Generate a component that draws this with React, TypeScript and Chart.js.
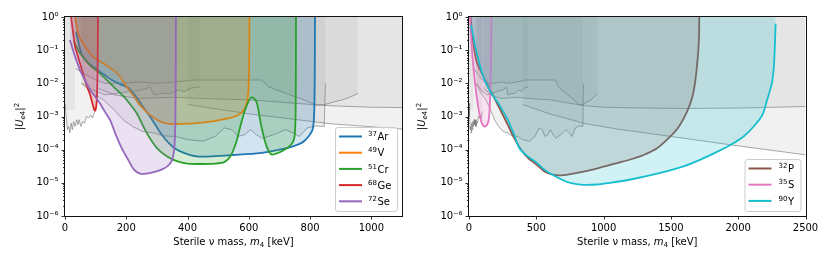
import React, { useEffect, useRef } from 'react';
import { Chart, registerables } from 'chart.js';

Chart.register(...registerables);

const FONT_FAMILY = '"DejaVu Sans", sans-serif';

// ---------------- axes ----------------
const leftXTicks = [0, 200, 400, 600, 800, 1000];
const leftXMax = 1100;
const rightXTicks = [0, 500, 1000, 1500, 2000, 2500];
const rightXMax = 2500;
const yTickValues = [1e-6, 1e-5, 1e-4, 1e-3, 1e-2, 1e-1, 1];

// ---------------- isotope sensitivity curves (mass in keV, |U_e4|^2) ----------------
const arMass = [36, 45, 55, 75, 99, 125, 153, 180, 208, 230, 251, 275, 295, 316, 338, 360, 390, 430, 480, 550, 636, 700, 744, 775, 795, 808, 813, 815, 816];
const arU = [0.363, 0.158, 0.072, 0.042, 0.028, 0.019, 0.0126, 0.0095, 0.0071, 0.0042, 0.0022, 0.00107, 5.6e-4, 2.8e-4, 1.6e-4, 1.07e-4, 7.9e-5, 6.3e-5, 6.3e-5, 6.9e-5, 7.9e-5, 1e-4, 1.26e-4, 1.66e-4, 2.5e-4, 4e-4, 1e-3, 1e-2, 1];

const vMass = [33, 43, 65, 92, 125, 158, 180, 201, 225, 245, 277, 310, 340, 380, 430, 480, 520, 555, 575, 590, 598, 601, 602];
const vU = [1, 0.32, 0.129, 0.063, 0.04, 0.025, 0.0158, 0.0079, 0.004, 0.0022, 0.00112, 7.1e-4, 6.0e-4, 6.0e-4, 6.3e-4, 7.1e-4, 8.3e-4, 1e-3, 1.26e-3, 2e-3, 5e-3, 0.0316, 1];

const crMass = [29, 49, 82, 114, 158, 186, 201, 234, 261, 277, 300, 332, 365, 400, 440, 490, 520, 540, 558, 575, 592, 609, 625, 641, 658, 674, 700, 725, 742, 750, 753, 754];
const crU = [0.182, 0.081, 0.035, 0.02, 0.0079, 0.0045, 0.0032, 0.00126, 4e-4, 2.2e-4, 1.12e-4, 6.3e-5, 4.5e-5, 3.8e-5, 3.7e-5, 3.8e-5, 4.2e-5, 6.3e-5, 1.58e-4, 6.3e-4, 2e-3, 3.8e-3, 2.8e-3, 5e-4, 1.26e-4, 7.2e-5, 8.3e-5, 1.12e-4, 1.58e-4, 2.8e-4, 2e-3, 1];

const geMass = [20, 26, 33, 41, 49, 57, 65, 74, 82, 88, 93, 97, 100, 103, 105, 106.5, 107.5];
const geU = [1, 0.355, 0.126, 0.071, 0.04, 0.0224, 0.0126, 0.0071, 0.0045, 0.0028, 0.0019, 0.0015, 0.0016, 0.0025, 0.0063, 0.0316, 1];

const seMass = [16, 33, 49, 65, 82, 98, 114, 130, 147, 168, 185, 206, 225, 245, 265, 290, 315, 335, 348, 355, 359, 361, 362];
const seU = [0.204, 0.063, 0.025, 0.0126, 0.0063, 0.004, 0.0025, 0.0014, 7.9e-4, 2.5e-4, 1.12e-4, 5e-5, 2.5e-5, 1.9e-5, 1.9e-5, 2.1e-5, 2.5e-5, 3.2e-5, 4.5e-5, 7.9e-5, 2.5e-4, 3.2e-3, 1];

const pMass = [12, 25, 57, 114, 164, 226, 288, 337, 387, 440, 504, 560, 628, 700, 801, 920, 1049, 1180, 1297, 1400, 1496, 1560, 1620, 1660, 1682, 1700, 1709, 1711];
const pU = [1, 0.25, 0.045, 0.014, 0.0056, 0.0018, 5.6e-4, 2.2e-4, 1e-4, 5.6e-5, 3.5e-5, 2.2e-5, 1.74e-5, 1.7e-5, 2e-5, 2.5e-5, 3.5e-5, 4.8e-5, 6.9e-5, 1.12e-4, 2.5e-4, 5e-4, 1.4e-3, 4e-3, 0.0126, 0.063, 0.25, 1];

const sMass = [7, 20, 32, 45, 57, 70, 82, 95, 112, 128, 144, 152, 157, 161, 164, 166, 167];
const sU = [1, 0.126, 0.0316, 0.01, 0.004, 0.0018, 1e-3, 6.3e-4, 5e-4, 5.2e-4, 7.1e-4, 1.4e-3, 4e-3, 0.0158, 0.063, 0.25, 1];

const yMass = [15, 30, 52, 102, 151, 226, 288, 330, 374, 420, 504, 560, 603, 680, 751, 850, 950, 1049, 1200, 1421, 1600, 1719, 1850, 1942, 2040, 2115, 2180, 2215, 2250, 2265, 2272, 2278];
const yU = [0.575, 0.28, 0.1, 0.0178, 0.0063, 0.0022, 7.9e-4, 3.2e-4, 1.12e-4, 7.1e-5, 4e-5, 2.5e-5, 1.9e-5, 1.3e-5, 1e-5, 8.7e-6, 8.9e-6, 1e-5, 1.26e-5, 2e-5, 3.2e-5, 5e-5, 8.9e-5, 1.38e-4, 2.5e-4, 5e-4, 1.12e-3, 3.2e-3, 0.01, 0.0316, 0.126, 0.63];

// ---------------- existing bounds (grey) ----------------
const stripMass = [0, 33];
const stripU = [1.6e-3, 1.6e-3];

const jaggedMass = [0, 4, 8, 12, 16, 20, 24, 28, 33, 38, 42, 46, 52, 58, 64, 70, 77, 84, 90, 95, 100];
const jaggedU = [2.5e-3, 1e-3, 4e-4, 5e-4, 3.2e-4, 6.3e-4, 4e-4, 7e-4, 5e-4, 8e-4, 5.6e-4, 8e-4, 5e-4, 7e-4, 6.3e-4, 1e-3, 9e-4, 1.1e-3, 9e-4, 1.26e-3, 1.4e-3];

const boundAMass = [34, 60, 100, 131, 180, 240, 300, 360, 420, 500, 600, 642, 664, 720, 780, 820, 848, 880, 907, 935, 956];
const boundAU = [2.8e-2, 2e-2, 1.26e-2, 1e-2, 1e-2, 1.1e-2, 1e-2, 1.1e-2, 1.26e-2, 1.26e-2, 1.26e-2, 1.26e-2, 7.9e-3, 5e-3, 3.2e-3, 2.2e-3, 2.3e-3, 2.8e-3, 3.2e-3, 4e-3, 5e-3];

const boundBMass = [54, 90, 131, 170, 208, 250, 278, 290, 320, 345, 370, 390, 410, 441];
const boundBU = [1e-2, 6.3e-3, 4.5e-3, 5e-3, 5.6e-3, 6.3e-3, 7.6e-3, 4.5e-3, 5e-3, 5e-3, 6.3e-3, 5.6e-3, 7.1e-3, 7.9e-3];

const boundCMass = [110, 160, 240, 360, 480, 600, 750, 870, 1000, 1300, 1600, 2000, 2500];
const boundCU = [7e-3, 4.5e-3, 3.5e-3, 3.8e-3, 3.4e-3, 3.2e-3, 2.5e-3, 2.1e-3, 1.9e-3, 1.8e-3, 1.75e-3, 1.8e-3, 2e-3];

const boundDMass = [400, 600, 870, 1100, 1500, 2000, 2500];
const boundDU = [2.3e-3, 1.2e-3, 6e-4, 4.2e-4, 2.5e-4, 1.3e-4, 7e-5];

const boundEMass = [54, 90, 125, 160, 190, 220, 255, 290, 320, 360, 400, 450, 490, 520, 545, 565, 585, 605, 625, 645, 680, 720, 745, 765, 790, 820, 846, 850];
const boundEU = [1e-2, 5e-3, 3.2e-3, 1.6e-3, 7.9e-4, 5e-4, 3.5e-4, 3.2e-4, 2.6e-4, 2.5e-4, 2e-4, 1.8e-4, 2.5e-4, 4.5e-4, 4e-4, 2.5e-4, 2.8e-4, 4e-4, 2.8e-4, 2.2e-4, 2.8e-4, 4e-4, 3.2e-4, 2.5e-4, 4.5e-4, 5.2e-4, 5e-4, 1e-2];

// ---------------- legend labels ----------------
const leftMassNumbers = ['37', '49', '51', '68', '72'];
const leftSymbols = ['Ar', 'V', 'Cr', 'Ge', 'Se'];
const rightMassNumbers = ['32', '35', '90'];
const rightSymbols = ['P', 'S', 'Y'];

// ---------------- helpers ----------------
const leftColors = ['#1f77b4', '#ff7f0e', '#2ca02c', '#d62728', '#9467bd'];
const rightColors = ['#8c564b', '#e377c2', '#17becf'];

const leftCurves = [
  { mass: arMass, u: arU },
  { mass: vMass, u: vU },
  { mass: crMass, u: crU },
  { mass: geMass, u: geU },
  { mass: seMass, u: seU },
];
const rightCurves = [
  { mass: pMass, u: pU },
  { mass: sMass, u: sU },
  { mass: yMass, u: yU },
];
const greyBounds = [
  { mass: stripMass, u: stripU, stroke: false },
  { mass: jaggedMass, u: jaggedU, stroke: true },
  { mass: boundAMass, u: boundAU, stroke: true },
  { mass: boundBMass, u: boundBU, stroke: true },
  { mass: boundCMass, u: boundCU, stroke: true },
  { mass: boundDMass, u: boundDU, stroke: true },
  { mass: boundEMass, u: boundEU, stroke: true },
];

const SUP: Record<string, string> = {
  '-': '\u207B', '0': '\u2070', '1': '\u00B9', '2': '\u00B2', '3': '\u00B3',
  '4': '\u2074', '5': '\u2075', '6': '\u2076', '7': '\u2077', '8': '\u2078', '9': '\u2079',
};
const toSup = (s: string) => s.split('').map((c) => SUP[c] ?? c).join('');

const toPoints = (xs: number[], ys: number[]) => xs.map((x, i) => ({ x, y: ys[i] }));

function rgba(hex: string, a: number) {
  const r = parseInt(hex.slice(1, 3), 16);
  const g = parseInt(hex.slice(3, 5), 16);
  const b = parseInt(hex.slice(5, 7), 16);
  return `rgba(${r},${g},${b},${a})`;
}

type Seg = { t: string; f: string; dy?: number };

function drawRich(ctx: CanvasRenderingContext2D, segs: Seg[], x: number, y: number) {
  let total = 0;
  for (const s of segs) {
    ctx.font = s.f;
    total += ctx.measureText(s.t).width;
  }
  let cx = x - total / 2;
  ctx.textAlign = 'left';
  ctx.textBaseline = 'alphabetic';
  for (const s of segs) {
    ctx.font = s.f;
    ctx.fillText(s.t, cx, y + (s.dy ?? 0));
    cx += ctx.measureText(s.t).width;
  }
}

const F10 = `10px ${FONT_FAMILY}`;
const F10I = `italic 10px ${FONT_FAMILY}`;
const F7 = `7px ${FONT_FAMILY}`;
const F7I = `italic 7px ${FONT_FAMILY}`;

const framePlugin = {
  id: 'frameTicks',
  afterDraw(chart: any) {
    const { ctx, chartArea: ca, scales } = chart;
    ctx.save();
    ctx.strokeStyle = '#000';
    ctx.lineWidth = 0.8;
    const xs = scales.x;
    ctx.beginPath();
    xs.ticks.forEach((t: any) => {
      const p = Math.round(xs.getPixelForValue(t.value)) + 0.5;
      ctx.moveTo(p, ca.bottom);
      ctx.lineTo(p, ca.bottom + 3.5);
    });
    const ys = scales.y;
    for (let e = -6; e <= 0; e++) {
      for (let k = 1; k < 10; k++) {
        const v = k * Math.pow(10, e);
        if (v > 1.0000001) break;
        const p = Math.round(ys.getPixelForValue(v)) + 0.5;
        const len = k === 1 ? 3.5 : 2;
        ctx.moveTo(ca.left - len, p);
        ctx.lineTo(ca.left, p);
      }
    }
    ctx.stroke();
    ctx.lineWidth = 1;
    ctx.strokeStyle = '#111';
    ctx.strokeRect(Math.round(ca.left) - 0.5, Math.round(ca.top) - 0.5, Math.round(ca.right - ca.left) + 1, Math.round(ca.bottom - ca.top) + 1);
    ctx.restore();
  },
};

type PanelSpec = {
  curves: { mass: number[]; u: number[] }[];
  colors: string[];
  massNumbers: string[];
  symbols: string[];
  xMax: number;
  xTicks: number[];
  yAxisWidth: number;
  rightPad: number;
  yTitleX: number;
  legendW: number;
  legendH: number;
  legendTextX: number;
};

function makeTextPlugin(p: PanelSpec) {
  return {
    id: 'texts',
    afterDraw(chart: any) {
      const ctx: CanvasRenderingContext2D = chart.ctx;
      const ca = chart.chartArea;
      ctx.save();
      ctx.fillStyle = '#000';
      // x title
      drawRich(
        ctx,
        [
          { t: 'Sterile \u03BD mass, ', f: F10 },
          { t: 'm', f: F10I },
          { t: '4', f: F7, dy: 1.8 },
          { t: ' [keV]', f: F10 },
        ],
        (ca.left + ca.right) / 2,
        245
      );
      // y title (rotated)
      ctx.save();
      ctx.translate(p.yTitleX, (ca.top + ca.bottom) / 2);
      ctx.rotate(-Math.PI / 2);
      drawRich(
        ctx,
        [
          { t: '|', f: F10 },
          { t: 'U', f: F10I },
          { t: 'e', f: F7I, dy: 1.8 },
          { t: '4', f: F7, dy: 1.8 },
          { t: '|', f: F10 },
          { t: '2', f: F7, dy: -4 },
        ],
        0,
        0
      );
      ctx.restore();
      // legend
      const right = ca.right - 5;
      const bottom = ca.bottom - 5;
      const left = right - p.legendW;
      const top = bottom - p.legendH;
      ctx.beginPath();
      ctx.roundRect(left + 0.5, top + 0.5, p.legendW, p.legendH, 2.5);
      ctx.fillStyle = 'rgba(255,255,255,0.8)';
      ctx.fill();
      ctx.strokeStyle = '#cccccc';
      ctx.lineWidth = 1;
      ctx.stroke();
      p.symbols.forEach((sym, i) => {
        const y = top + 9.5 + i * 16.2;
        ctx.strokeStyle = p.colors[i];
        ctx.lineWidth = 2;
        ctx.beginPath();
        ctx.moveTo(left + 4, y);
        ctx.lineTo(left + 27, y);
        ctx.stroke();
        ctx.fillStyle = '#000';
        ctx.textAlign = 'left';
        ctx.textBaseline = 'alphabetic';
        ctx.font = F7;
        const tx = left + p.legendTextX;
        ctx.fillText(p.massNumbers[i], tx, y + 3.6 - 4);
        const w = ctx.measureText(p.massNumbers[i]).width;
        ctx.font = F10;
        ctx.fillText(sym, tx + w + 0.5, y + 3.6);
      });
      ctx.restore();
    },
  };
}

function buildConfig(p: PanelSpec): any {
  const datasets: any[] = [];
  greyBounds.forEach((g, i) => {
    datasets.push({
      data: toPoints(g.mass, g.u),
      borderColor: g.stroke ? 'rgba(110,110,110,0.75)' : 'rgba(0,0,0,0)',
      borderWidth: g.stroke ? 0.8 : 0,
      backgroundColor: 'rgba(128,128,128,0.11)',
      fill: 'end',
      pointRadius: 0,
      tension: 0,
      order: 100 + i,
    });
  });
  p.curves.forEach((c, i) => {
    datasets.push({
      data: toPoints(c.mass, c.u),
      borderColor: p.colors[i],
      backgroundColor: rgba(p.colors[i], 0.2),
      borderWidth: 1.8,
      fill: 'end',
      pointRadius: 0,
      tension: 0.25,
      order: 20 - i,
    });
  });
  return {
    type: 'line',
    data: { datasets },
    options: {
      responsive: false,
      animation: false,
      events: [],
      layout: { padding: { left: 0, top: 17, right: p.rightPad, bottom: 0 } },
      plugins: { legend: { display: false }, tooltip: { enabled: false } },
      scales: {
        x: {
          type: 'linear',
          min: 0,
          max: p.xMax,
          afterBuildTicks: (s: any) => {
            s.ticks = p.xTicks.map((v) => ({ value: v }));
          },
          ticks: {
            color: '#000',
            font: { family: FONT_FAMILY, size: 10 },
            padding: 3,
            maxRotation: 0,
            autoSkip: false,
            callback: (v: any) => String(v),
          },
          grid: { display: false, drawTicks: true, tickLength: 3.5 },
          border: { display: false },
          afterFit: (s: any) => {
            s.height = 48;
            s.paddingLeft = 0;
            s.paddingRight = 0;
          },
        },
        y: {
          type: 'logarithmic',
          min: 1e-6,
          max: 1,
          afterBuildTicks: (s: any) => {
            s.ticks = yTickValues.map((v) => ({ value: v, major: true }));
          },
          ticks: {
            color: '#000',
            font: { family: FONT_FAMILY, size: 10 },
            padding: 3,
            autoSkip: false,
            callback: (v: any) => '10' + toSup(String(Math.round(Math.log10(Number(v))))),
          },
          grid: { display: false, drawTicks: true, tickLength: 3.5 },
          border: { display: false },
          afterFit: (s: any) => {
            s.width = p.yAxisWidth;
            s.paddingTop = 0;
            s.paddingBottom = 0;
          },
        },
      },
    },
    plugins: [framePlugin, makeTextPlugin(p)],
  };
}

const leftSpec: PanelSpec = {
  curves: leftCurves,
  colors: leftColors,
  massNumbers: leftMassNumbers,
  symbols: leftSymbols,
  xMax: leftXMax,
  xTicks: leftXTicks,
  yAxisWidth: 65,
  rightPad: 13,
  yTitleX: 23,
  legendW: 62,
  legendH: 84,
  legendTextX: 33,
};

const rightSpec: PanelSpec = {
  curves: rightCurves,
  colors: rightColors,
  massNumbers: rightMassNumbers,
  symbols: rightSymbols,
  xMax: rightXMax,
  xTicks: rightXTicks,
  yAxisWidth: 54,
  rightPad: 24.5,
  yTitleX: 10,
  legendW: 56,
  legendH: 52,
  legendTextX: 34,
};

function Panel({ spec }: { spec: PanelSpec }) {
  const ref = useRef<HTMLCanvasElement>(null);
  useEffect(() => {
    if (!ref.current) return;
    const chart = new Chart(ref.current, buildConfig(spec));
    return () => chart.destroy();
  }, [spec]);
  return <canvas ref={ref} width={415} height={264} style={{ display: 'block', width: 415, height: 264 }} />;
}

export default function App() {
  return (
    <div style={{ position: 'absolute', left: 0, top: 0, width: 830, height: 264, display: 'flex', background: '#fff' }}>
      <Panel spec={leftSpec} />
      <Panel spec={rightSpec} />
    </div>
  );
}
